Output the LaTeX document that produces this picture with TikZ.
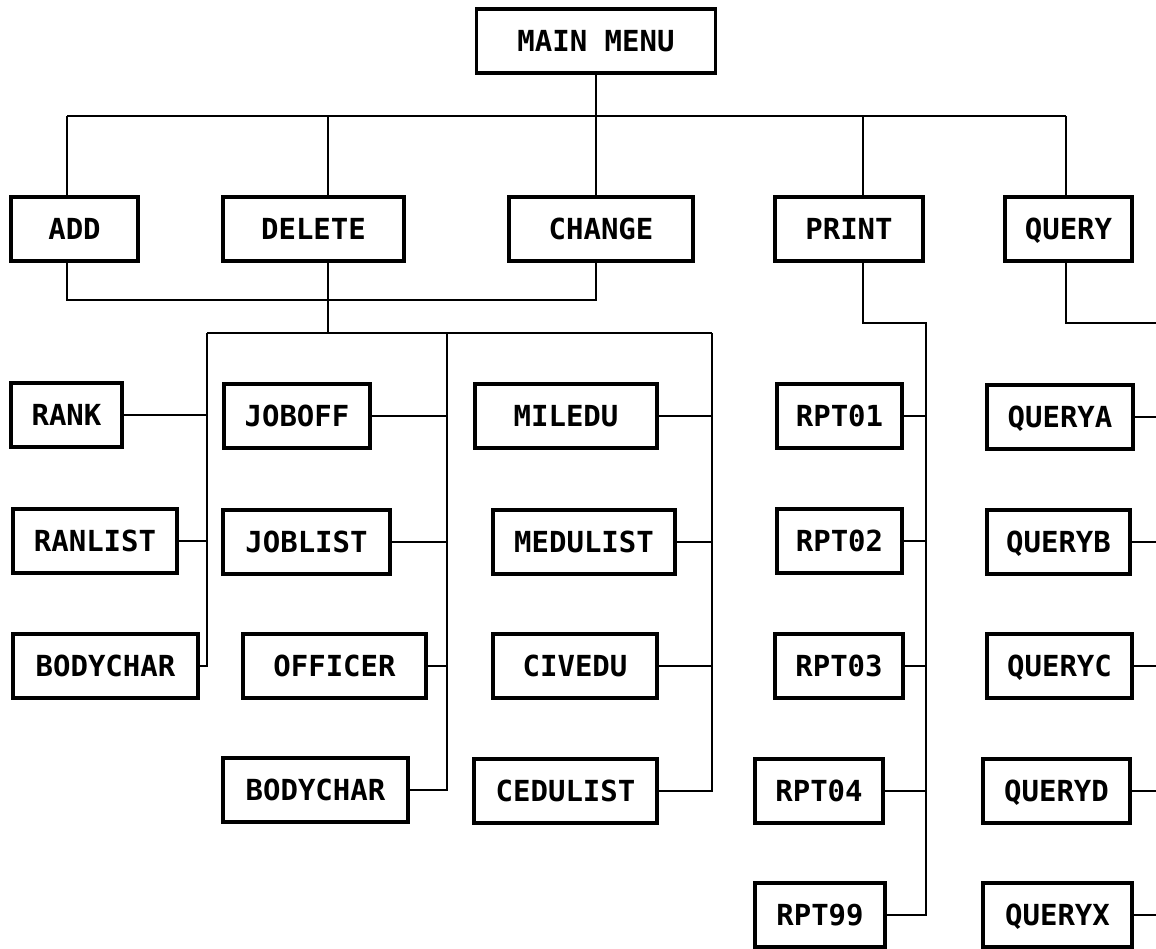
\documentclass[tikz,border=0pt]{standalone}
\usepackage{fontspec}
\newfontfamily\dotfont{DejaVu Sans Mono}
\usepackage{tikz}

\begin{document}
\begin{tikzpicture}[x=0.02cm, y=-0.02cm,
    box/.style={draw, line width=2pt, minimum width=#1*0.02cm, minimum height=1.28cm,
      inner sep=0pt, text height=12pt, text depth=0pt,
      font=\dotfont\bfseries\fontsize{16.5}{18}\selectfont},
    wire/.style={line width=1.4pt}]
  \useasboundingbox (0,0) rectangle (1156,949);

  % menu levels
  \node[box=239] (main) at (596,41) {MAIN MENU};
  \node[box=127] (add) at (74.5,229) {ADD};
  \node[box=181] (delete) at (313.5,229) {DELETE};
  \node[box=184] (change) at (601,229) {CHANGE};
  \node[box=148] (print) at (849,229) {PRINT};
  \node[box=127] (query) at (1068.5,229) {QUERY};

  % add / delete / change modules
  \node[box=111] (rank) at (66.5,415) {RANK};
  \node[box=164] (ranlist) at (95,541) {RANLIST};
  \node[box=185] (bodychara) at (105.5,666) {BODYCHAR};
  \node[box=146] (joboff) at (297,416) {JOBOFF};
  \node[box=167] (joblist) at (306.5,542) {JOBLIST};
  \node[box=183] (officer) at (334.5,666) {OFFICER};
  \node[box=185] (bodycharb) at (315.5,790) {BODYCHAR};
  \node[box=182] (miledu) at (566,416) {MILEDU};
  \node[box=182] (medulist) at (584,542) {MEDULIST};
  \node[box=164] (civedu) at (575,666) {CIVEDU};
  \node[box=183] (cedulist) at (565.5,791) {CEDULIST};

  % reports
  \node[box=125] (rpt01) at (839.5,416) {RPT01};
  \node[box=125] (rpt02) at (839.5,541) {RPT02};
  \node[box=128] (rpt03) at (839,666) {RPT03};
  \node[box=128] (rpt04) at (819,791) {RPT04};
  \node[box=130] (rpt99) at (820,915) {RPT99};

  % queries
  \node[box=146] (querya) at (1060,417) {QUERYA};
  \node[box=143] (queryb) at (1058.5,542) {QUERYB};
  \node[box=145] (queryc) at (1059.5,666) {QUERYC};
  \node[box=147] (queryd) at (1056.5,791) {QUERYD};
  \node[box=149] (queryx) at (1057.5,915) {QUERYX};

  % bus points
  \coordinate (ja) at (67,116);
  \coordinate (jd) at (328,116);
  \coordinate (jc) at (596,116);
  \coordinate (jp) at (863,116);
  \coordinate (jq) at (1066,116);
  \coordinate (ka) at (67,300);
  \coordinate (kd) at (328,333);
  \coordinate (ca) at (207,333);
  \coordinate (cb) at (447,333);
  \coordinate (cc) at (712,333);
  \coordinate (cp) at (926,323);
  \coordinate (cq) at (1156,323);

  \draw[wire] (ja) -- (jq);
  \draw[wire] (main) -- (main |- change.north);
  \foreach \j/\n in {ja/add, jd/delete, jp/print, jq/query}
    \draw[wire] (\j) -- (\j |- \n.north);

  \draw[wire] (ka |- add.south) -- (ka) -- (ka -| jc) -- (jc |- change.south);
  \draw[wire] (jd |- delete.south) -- (kd);
  \draw[wire] (ca) -- (cc);
  \draw[wire] (ca) |- (bodychara);
  \draw[wire] (cb) |- (bodycharb);
  \draw[wire] (cc) |- (cedulist);
  \draw[wire] (jp |- print.south) |- (cp) |- (rpt99);
  \draw[wire] (jq |- query.south) |- (cq);

  \path[wire] (rank) edge (rank -| ca)
              (ranlist) edge (ranlist -| ca)
              (joboff) edge (joboff -| cb)
              (joblist) edge (joblist -| cb)
              (officer) edge (officer -| cb)
              (miledu) edge (miledu -| cc)
              (medulist) edge (medulist -| cc)
              (civedu) edge (civedu -| cc)
              (rpt01) edge (rpt01 -| cp)
              (rpt02) edge (rpt02 -| cp)
              (rpt03) edge (rpt03 -| cp)
              (rpt04) edge (rpt04 -| cp)
              (querya) edge (querya -| cq)
              (queryb) edge (queryb -| cq)
              (queryc) edge (queryc -| cq)
              (queryd) edge (queryd -| cq)
              (queryx) edge (queryx -| cq);
\end{tikzpicture}
\end{document}
